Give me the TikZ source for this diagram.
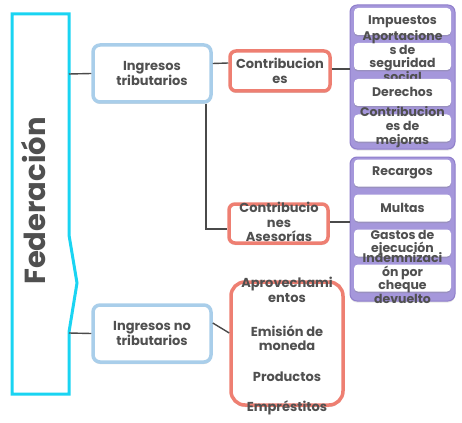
\documentclass[tikz,border=0pt]{standalone}
\usepackage{fontspec}
\setmainfont{Poppins}
\usetikzlibrary{shadows}
\definecolor{txt}{HTML}{505050}
\definecolor{cyanb}{HTML}{1AD4F2}
\definecolor{blueb}{HTML}{A9CEEA}
\definecolor{redb}{HTML}{EE7F72}
\definecolor{purf}{HTML}{A597DB}
\definecolor{purb}{HTML}{8F7ECB}
\definecolor{conn}{HTML}{4A4A4A}
\tikzset{
  conn/.style={draw=conn,line width=1.4pt},
  bluebox/.style={draw=blueb,line width=3.5pt,fill=white,rounded corners=7pt,
    drop shadow={shadow xshift=0pt,shadow yshift=-2pt,opacity=0.3}},
  redbox/.style={draw=redb,line width=3.5pt,fill=white,rounded corners=6pt,
    drop shadow={shadow xshift=0pt,shadow yshift=-2pt,opacity=0.3}},
  group/.style={draw=purb,line width=1pt,fill=purf,rounded corners=7pt,
    drop shadow={shadow xshift=0pt,shadow yshift=-1.5pt,opacity=0.2}},
  item/.style={fill=white,rounded corners=4pt,minimum width=97pt,minimum height=27pt,
    drop shadow={shadow xshift=0pt,shadow yshift=-1.5pt,opacity=0.3}},
  lbl/.style={text=txt,font=\bfseries\fontsize{13}{14.5}\selectfont,align=center,inner sep=0pt},
  ilbl/.style={text=txt,font=\bfseries\fontsize{12.5}{13.8}\selectfont,align=center,inner sep=0pt},
}
\begin{document}
\begin{tikzpicture}[x=1pt,y=-1pt]
\useasboundingbox (0,0) rectangle (462,422);
% Federacion
\draw[cyanb,line width=3pt,line join=miter] (12,14) -- (69,14) -- (69,235) -- (77,283) -- (69,332) -- (69,394) -- (12,394) -- cycle;
\node[text=txt,font=\bfseries\fontsize{29}{30}\selectfont,rotate=90,inner sep=0pt] (fed) at (34,201) {Federación};
\coordinate (f1) at (69,74);
\coordinate (f2) at (69,333);
% level 1
\node[bluebox,minimum width=118pt,minimum height=57pt] (it) at (152,73.5) {};
\node[lbl] (itt) at (it.center) {Ingresos\\tributarios};
\node[bluebox,minimum width=118pt,minimum height=57pt] (int) at (152,333.5) {};
\node[lbl] (intt) at (int.center) {Ingresos no\\tributarios};
\draw[conn] (f1) -- (it.west);
\draw[conn] (f2) -- (int.west);
% level 2 boxes
\node[redbox,minimum width=100pt,minimum height=40pt] (co) at (280,71) {};
\node[lbl] (cot) at (co.center) {Contribucion\\es};
\node[redbox,minimum width=99pt,minimum height=39pt] (ca) at (278.5,223.5) {};
\node[lbl] (cat) at (279,222) {Contribucio\\nes\\Asesorías};
\node[redbox,rounded corners=14pt,minimum width=112pt,minimum height=123pt] (ng) at (287,343.5) {};
\node[lbl] (ng1) at (287,290) {Aprovechami\\entos};
\node[lbl] (ng2) at (287,338) {Emisión de\\moneda};
\node[lbl] (ng3) at (287,377) {Productos};
\node[lbl] (ng4) at (287,408) {Empréstitos};
% connectors
\draw[conn] ([yshift=10pt]it.east) -- ([yshift=8pt]co.west);
\draw[conn] ([xshift=54pt]it.south) |- ([yshift=-5.5pt]ca.west);
\draw[conn] ([yshift=10.5pt]int.east) -- ([yshift=10.5pt]ng.west);
% groups
\node[group,minimum width=105pt,minimum height=144pt] (pg1) at (402.5,77) {};
\node[group,minimum width=105pt,minimum height=144pt] (pg2) at (402.5,229) {};
\draw[conn] ([yshift=2pt]co.east) -- ([yshift=8pt]pg1.west);
\draw[conn] ([yshift=1.5pt]ca.east) -- ([yshift=7pt]pg2.west);
% group 1 items
\node[item] (a1) at (402.5,21.5) {};
\node[ilbl] (a1t) at (402.5,22) {Impuestos};
\node[item] (a2) at (402.5,56.5) {};
\node[ilbl] (a2t) at (402.5,56) {Aportacione\\s de\\seguridad\\social};
\node[item] (a3) at (402.5,92.5) {};
\node[ilbl] (a3t) at (402.5,91.5) {Derechos};
\node[item] (a4) at (402.5,128) {};
\node[ilbl] (a4t) at (402.5,127) {Contribucion\\es de\\mejoras};
% group 2 items
\node[item] (b1) at (402.5,173) {};
\node[ilbl] (b1t) at (402.5,173) {Recargos};
\node[item] (b2) at (402.5,208) {};
\node[ilbl] (b2t) at (402.5,208) {Multas};
\node[item] (b3) at (402.5,243) {};
\node[ilbl] (b3t) at (402.5,243) {Gastos de\\ejecución};
\node[item] (b4) at (402.5,278) {};
\node[ilbl] (b4t) at (402.5,278) {Indemnizaci\\ón por\\cheque\\devuelto};
\end{tikzpicture}
\end{document}
